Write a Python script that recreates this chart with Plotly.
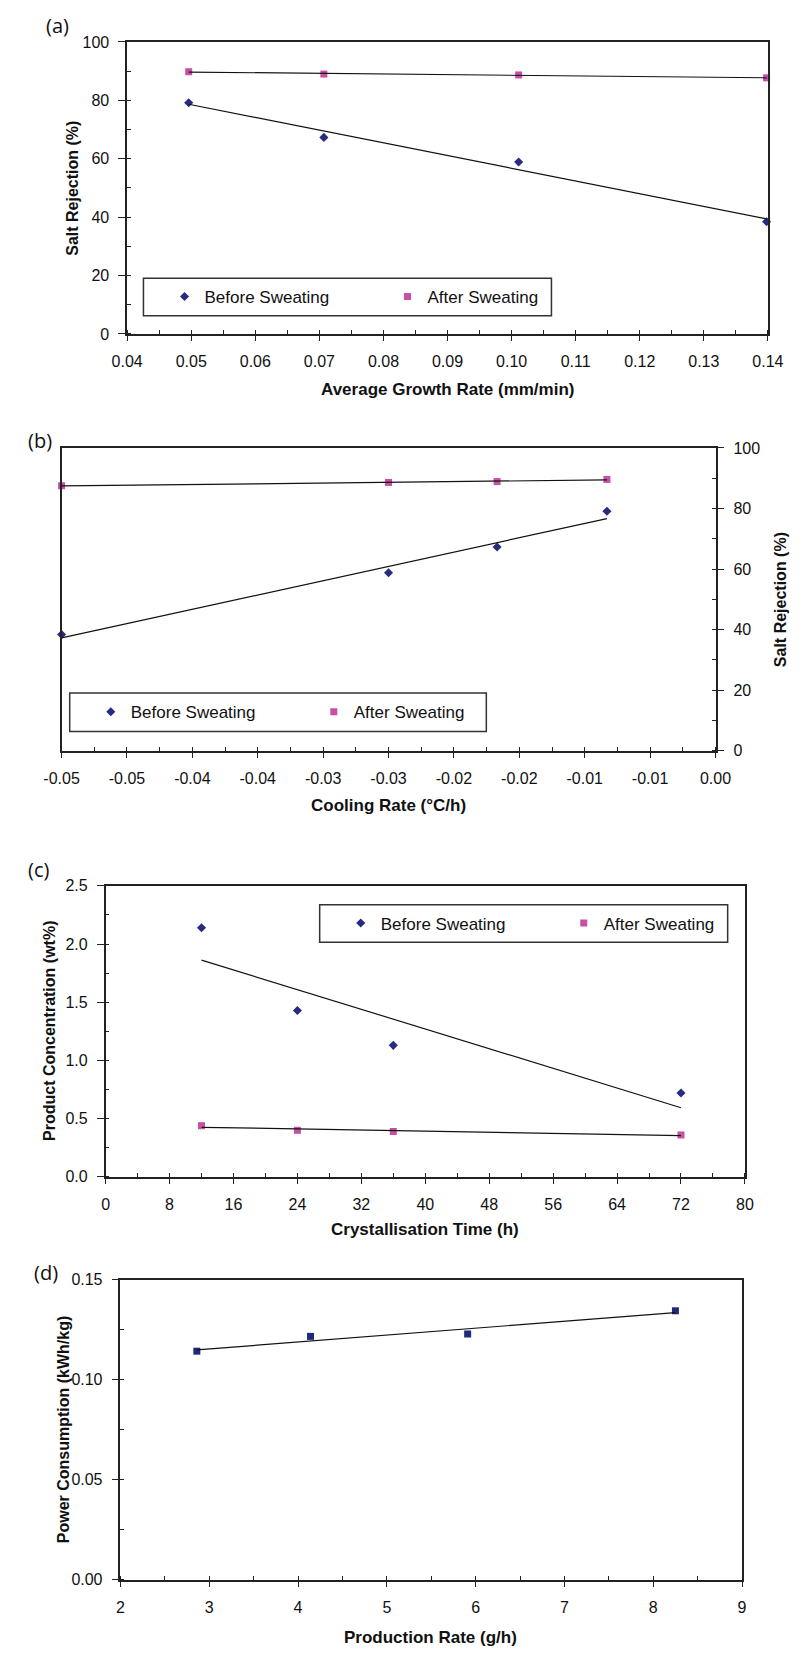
import numpy as np
import plotly.graph_objects as go

W, H = 804, 1655

# ---------------- data ----------------
# (a) Salt rejection vs average growth rate
growth_rate = [0.0496, 0.0707, 0.1011, 0.1398]
a_before = [79.2, 67.3, 58.9, 38.4]
a_after = [89.8, 89.0, 88.7, 87.7]

# (b) Salt rejection vs cooling rate
cooling_rate = [-0.0500, -0.0250, -0.0167, -0.0083]
b_before = [38.4, 58.8, 67.3, 79.1]
b_after = [87.5, 88.6, 88.9, 89.6]
b_tickvals = [-0.05, -0.045, -0.04, -0.035, -0.03, -0.025, -0.02, -0.015, -0.01, -0.005, 0.0]
b_ticktext = ["-0.05", "-0.05", "-0.04", "-0.04", "-0.03", "-0.03",
              "-0.02", "-0.02", "-0.01", "-0.01", "0.00"]

# (c) Product concentration vs crystallisation time
cryst_time = [12, 24, 36, 72]
c_before = [2.14, 1.43, 1.13, 0.72]
c_after = [0.44, 0.40, 0.39, 0.36]

# (d) Power consumption vs production rate
production_rate = [2.86, 4.14, 5.91, 8.25]
power = [0.1143, 0.1217, 0.1229, 0.1345]

series_names = ["Before Sweating", "After Sweating"]

# ---------------- style ----------------
NAVY = "#282C80"
PINK = "#C84FA4"
FONT = "Liberation Sans, Arial, sans-serif"
AX = "#222222"


def trend(x, y):
    k, b = np.polyfit(x, y, 1)
    xs = np.array([min(x), max(x)])
    return xs, k * xs + b


def dom_x(l, r):
    return [l / W, r / W]


def dom_y(t, b):
    return [1 - b / H, 1 - t / H]


def xaxis(l, r, anchor, rng, dtick=None, minor=None, fmt=None, **kw):
    d = dict(domain=dom_x(l, r), anchor=anchor, range=rng, showline=True, mirror=True,
             linecolor=AX, linewidth=2, ticks="outside", ticklen=5, tickwidth=1,
             tickcolor=AX, showgrid=False, zeroline=False,
             tickfont=dict(family=FONT, size=16, color="#111"),
             minor=dict(ticks="inside", ticklen=4, tickcolor=AX, dtick=minor, showgrid=False),
             ticklabelstandoff=7)
    if dtick is not None:
        d["dtick"] = dtick
        d["tick0"] = rng[0]
    if fmt:
        d["tickformat"] = fmt
    d.update(kw)
    return d


def yaxis(t, b, anchor, rng, dtick, minor, fmt=None, side="left"):
    d = dict(domain=dom_y(t, b), anchor=anchor, range=rng, showline=True, mirror=True,
             linecolor=AX, linewidth=1.5, ticks="outside", ticklen=7, tickwidth=1,
             tickcolor=AX, showgrid=False, zeroline=False, dtick=dtick, tick0=0,
             side=side, tickfont=dict(family=FONT, size=16, color="#111"),
             minor=dict(ticks="inside", ticklen=4, tickcolor=AX, dtick=minor, showgrid=False),
             ticklabelstandoff=6)
    if fmt:
        d["tickformat"] = fmt
    return d


fig = go.Figure()


def add_panel(x, yb, ya, xa, ya_name, legend):
    sty = [dict(symbol="diamond", size=7, color=NAVY),
           dict(symbol="square", size=7, color=PINK)]
    for name, y, m in zip(series_names, [yb, ya], sty):
        fig.add_trace(go.Scatter(x=x, y=y, mode="markers", name=name, marker=m,
                                 xaxis=xa, yaxis=ya_name, legend=legend, cliponaxis=False))
    for y in [yb, ya]:
        tx, ty = trend(x, y)
        fig.add_trace(go.Scatter(x=tx, y=ty, mode="lines", line=dict(color="#111", width=1.2),
                                 xaxis=xa, yaxis=ya_name, showlegend=False, hoverinfo="skip"))


add_panel(growth_rate, a_before, a_after, "x", "y", "legend")
add_panel(cooling_rate, b_before, b_after, "x2", "y2", "legend2")
add_panel(cryst_time, c_before, c_after, "x3", "y3", "legend3")

fig.add_trace(go.Scatter(x=production_rate, y=power, mode="markers",
                         marker=dict(symbol="square", size=7, color="#1F2A7A"),
                         xaxis="x4", yaxis="y4", showlegend=False, cliponaxis=False))
tx, ty = trend(production_rate, power)
fig.add_trace(go.Scatter(x=tx, y=ty, mode="lines", line=dict(color="#111", width=1.2),
                         xaxis="x4", yaxis="y4", showlegend=False, hoverinfo="skip"))

# panel geometry (pixels)
PA = dict(l=114, r=783, t=34.3, b=329.3)
PB = dict(l=45.5, r=728.3, t=444.5, b=750.5)
PC = dict(l=91.5, r=759, t=887, b=1181)
PD = dict(l=107, r=756, t=1285, b=1588)

fig.update_layout(
    xaxis=xaxis(PA["l"], PA["r"], "y", [0.04, 0.14], 0.01, 0.005, ".2f"),
    yaxis=yaxis(PA["t"], PA["b"], "x", [0, 100], 20, 10),
    xaxis2=xaxis(PB["l"], PB["r"], "y2", [-0.05, 0], minor=0.0025,
                 tickvals=b_tickvals, ticktext=b_ticktext, tickmode="array"),
    yaxis2=yaxis(PB["t"], PB["b"], "x2", [0, 100], 20, 10, side="right"),
    xaxis3=xaxis(PC["l"], PC["r"], "y3", [0, 80], 8, 4),
    yaxis3=yaxis(PC["t"], PC["b"], "x3", [0, 2.5], 0.5, 0.25, ".1f"),
    xaxis4=xaxis(PD["l"], PD["r"], "y4", [2, 9], 1, 0.5),
    yaxis4=yaxis(PD["t"], PD["b"], "x4", [0, 0.15], 0.05, 0.025, ".2f"),
)
fig.update_layout(xaxis2=dict(minor=dict(tick0=-0.05)))

# legend boxes (pixels): left, right, top, bottom
LEG = {"legend": (131, 557, 273, 311),
       "legend2": (54, 489, 692, 731),
       "legend3": (315, 741, 906, 944)}
shapes = []
for key, (l, r, t, b) in LEG.items():
    shapes.append(dict(type="rect", xref="paper", yref="paper", x0=l / W, x1=r / W,
                       y0=1 - b / H, y1=1 - t / H, line=dict(color="#333", width=1.5),
                       fillcolor="white", layer="below"))
    fig.update_layout({key: dict(orientation="h", x=(l + 22) / W, xanchor="left",
                                 y=1 - ((t + b) / 2) / H, yanchor="middle",
                                 bgcolor="rgba(0,0,0,0)", borderwidth=0, entrywidth=178,
                                 font=dict(family=FONT, size=17, color="#111"),
                                 itemwidth=30)})

ann = []


def text(x, y, s, size, bold=False, angle=0, family=FONT):
    ann.append(dict(xref="paper", yref="paper", x=x / W, y=1 - y / H,
                    text=f"<b>{s}</b>" if bold else s,
                    showarrow=False, xanchor="center", yanchor="middle", textangle=angle,
                    font=dict(family=family, size=size, color="#111")))


PL = "Open Sans, DejaVu Sans, sans-serif"
text(41, 18, "(a)", 20, family=PL)
text(23, 437, "(b)", 20, family=PL)
text(21, 870, "(c)", 20, family=PL)
text(29, 1278, "(d)", 20, family=PL)

text(448, 385, "Average Growth Rate (mm/min)", 17, bold=True)
text(56, 182, "Salt Rejection (%)", 16, bold=True, angle=-90)
text(387, 806, "Cooling Rate (°C/h)", 17, bold=True)
text(797, 598, "Salt Rejection (%)", 16, bold=True, angle=-90)
text(425, 1234, "Crystallisation Time (h)", 17, bold=True)
text(33, 1034, "Product Concentration (wt%)", 16, bold=True, angle=-90)
text(431, 1646, "Production Rate (g/h)", 17, bold=True)
text(47, 1436, "Power Consumption (kWh/kg)", 16, bold=True, angle=-90)

fig.update_layout(width=W, height=H, margin=dict(l=0, r=0, t=0, b=0),
                  paper_bgcolor="white", plot_bgcolor="rgba(0,0,0,0)",
                  shapes=shapes, annotations=ann, font=dict(family=FONT))

fig.write_html("out.html")
